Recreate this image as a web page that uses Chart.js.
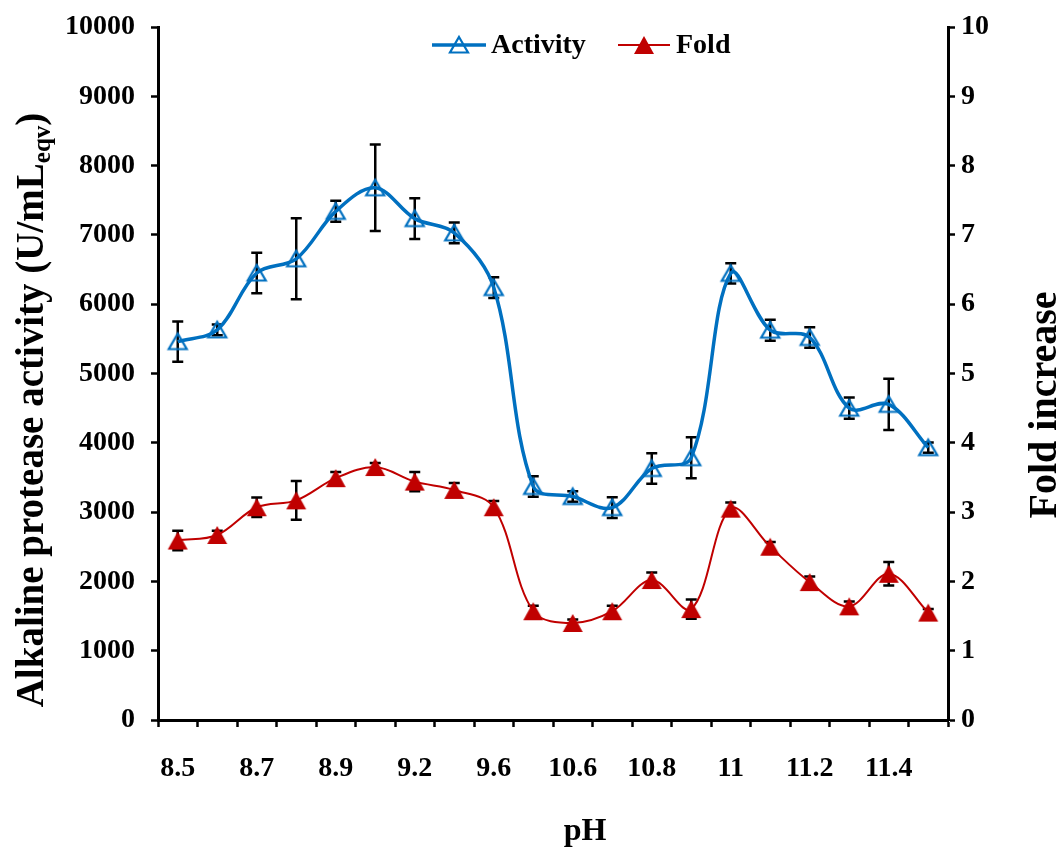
<!DOCTYPE html>
<html>
<head>
<meta charset="utf-8">
<script src="https://cdn.jsdelivr.net/npm/chart.js@4.4.1/dist/chart.umd.min.js"></script>
<style>
  html, body { margin: 0; padding: 0; background: #ffffff; }
  #wrap { width: 1062px; height: 848px; }
  canvas { display: block; }
</style>
</head>
<body>
<div id="wrap"><canvas id="chart" width="1062" height="848"></canvas></div>
<script>
// pH categories (every other one is labelled on the axis)
const phLabels = ['8.5', '8.6', '8.7', '8.8', '8.9', '9', '9.2', '9.4', '9.6', '10',
                  '10.6', '10.7', '10.8', '10.9', '11', '11.1', '11.2', '11.3', '11.4', '11.5'];

// Alkaline protease activity (U/mL eqv) and its standard deviation
const activity    = [5460, 5630, 6450, 6655, 7340, 7680, 7235, 7030, 6240, 3370,
                     3225, 3065, 3630, 3785, 6445, 5625, 5520, 4500, 4555, 3930];
const activityErr = [290, 77, 293, 584, 152, 623, 293, 149, 150, 147,
                     75, 149, 221, 296, 147, 152, 149, 152, 370, 75];

// Fold increase and its standard deviation
const fold    = [2.59, 2.67, 3.07, 3.17, 3.49, 3.65, 3.44, 3.32, 3.07, 1.57,
                 1.40, 1.57, 2.02, 1.60, 3.05, 2.50, 1.99, 1.64, 2.11, 1.55];
const foldErr = [0.14, 0.06, 0.14, 0.28, 0.09, 0.06, 0.14, 0.10, 0.09, 0.08,
                 0.05, 0.08, 0.11, 0.14, 0.09, 0.07, 0.08, 0.07, 0.17, 0.05];

// Axis ranges
const activityMax = 10000, activityStep = 1000;
const foldMax = 10, foldStep = 1;

const BLUE = '#0070C0';
const RED = '#C00000';
const FONT = '"Liberation Serif", "Times New Roman", serif';

// Triangle markers centred on their bounding box
function triangleMarker(w, h, fill, stroke, lw) {
  const pad = Math.ceil(lw || 0) + 1;
  const c = document.createElement('canvas');
  c.width = Math.round(w + 2 * pad);
  c.height = Math.round(h + 2 * pad);
  const g = c.getContext('2d');
  g.beginPath();
  g.moveTo(c.width / 2, pad);
  g.lineTo(c.width - pad, pad + h);
  g.lineTo(pad, pad + h);
  g.closePath();
  if (fill) { g.fillStyle = fill; g.fill(); }
  if (stroke) { g.strokeStyle = stroke; g.lineWidth = lw; g.lineJoin = 'miter'; g.stroke(); }
  return c;
}
const openTri = triangleMarker(18, 15.5, null, BLUE, 2.2);
const solidTri = triangleMarker(20, 18, RED, null, 0);

// Vertical error bars with caps, drawn under the markers
const errorBars = {
  id: 'errorBars',
  beforeDatasetsDraw(chart) {
    const ctx = chart.ctx;
    chart.data.datasets.forEach((ds, di) => {
      const meta = chart.getDatasetMeta(di);
      const ys = chart.scales[meta.yAxisID];
      ctx.save();
      ctx.strokeStyle = '#000000';
      ctx.lineWidth = 2.5;
      meta.data.forEach((pt, i) => {
        const v = ds.data[i], e = ds.errors[i];
        const top = ys.getPixelForValue(v + e);
        const bot = ys.getPixelForValue(v - e);
        ctx.beginPath();
        ctx.moveTo(pt.x, top); ctx.lineTo(pt.x, bot);
        ctx.moveTo(pt.x - 5.5, top); ctx.lineTo(pt.x + 5.5, top);
        ctx.moveTo(pt.x - 5.5, bot); ctx.lineTo(pt.x + 5.5, bot);
        ctx.stroke();
      });
      ctx.restore();
    });
  }
};

// Axis titles and the in-plot legend
const decorations = {
  id: 'decorations',
  afterDraw(chart) {
    const ctx = chart.ctx;
    ctx.save();
    ctx.fillStyle = '#000000';

    // Left axis title with subscript
    ctx.save();
    ctx.translate(31, 410);
    ctx.rotate(-Math.PI / 2);
    const mainFont = 'bold 39px ' + FONT;
    const subFont = 'bold 25px ' + FONT;
    const t1 = 'Alkaline protease activity (U/mL', t2 = 'eqv', t3 = ')';
    ctx.font = mainFont; const w1 = ctx.measureText(t1).width; const w3 = ctx.measureText(t3).width;
    ctx.font = subFont; const w2 = ctx.measureText(t2).width;
    let x = -(w1 + w2 + w3) / 2;
    ctx.textBaseline = 'alphabetic';
    ctx.textAlign = 'left';
    ctx.font = mainFont; ctx.fillText(t1, x, 12); x += w1;
    ctx.font = subFont; ctx.fillText(t2, x, 19); x += w2;
    ctx.font = mainFont; ctx.fillText(t3, x, 12);
    ctx.restore();

    // Right axis title
    ctx.save();
    ctx.translate(1043, 405);
    ctx.rotate(-Math.PI / 2);
    ctx.font = 'bold 40px ' + FONT;
    ctx.textAlign = 'center';
    ctx.textBaseline = 'alphabetic';
    ctx.fillText('Fold increase', 0, 13);
    ctx.restore();

    // Bottom axis title
    ctx.font = 'bold 32px ' + FONT;
    ctx.textAlign = 'center';
    ctx.textBaseline = 'alphabetic';
    ctx.fillText('pH', 585, 840);

    // Legend
    const items = [
      { ds: chart.data.datasets[0], x0: 432, x1: 486, tx: 491 },
      { ds: chart.data.datasets[1], x0: 618, x1: 670, tx: 676 }
    ];
    const ly = 45;
    items.forEach(it => {
      ctx.strokeStyle = it.ds.borderColor;
      ctx.lineWidth = it.ds.borderWidth;
      ctx.beginPath(); ctx.moveTo(it.x0, ly); ctx.lineTo(it.x1, ly); ctx.stroke();
      const m = it.ds.pointStyle;
      const cx = (it.x0 + it.x1) / 2;
      ctx.drawImage(m, cx - m.width / 2, ly - m.height / 2);
      ctx.font = 'bold 28px ' + FONT;
      ctx.textAlign = 'left';
      ctx.textBaseline = 'middle';
      ctx.fillStyle = '#000000';
      ctx.fillText(it.ds.label, it.tx, ly + 1);
    });
    ctx.restore();
  }
};

const tickFont = { family: FONT, size: 28, weight: 'bold' };

// Fixed scale box sizes so the plot area sits at 158..948 x 27..720
function fixVertical(width) {
  return s => { s.width = width; s.paddingTop = 0; s.paddingBottom = 0; };
}

new Chart(document.getElementById('chart'), {
  type: 'line',
  data: {
    labels: phLabels,
    datasets: [
      {
        label: 'Activity',
        data: activity,
        errors: activityErr,
        yAxisID: 'y',
        borderColor: BLUE,
        backgroundColor: BLUE,
        borderWidth: 3.5,
        tension: 0.35,
        pointStyle: openTri,
        pointRadius: 10,
        fill: false
      },
      {
        label: 'Fold',
        data: fold,
        errors: foldErr,
        yAxisID: 'y1',
        borderColor: RED,
        backgroundColor: RED,
        borderWidth: 2,
        tension: 0.35,
        pointStyle: solidTri,
        pointRadius: 10,
        fill: false
      }
    ]
  },
  options: {
    responsive: false,
    animation: false,
    devicePixelRatio: 1,
    layout: { padding: { top: 27, left: 0, right: 0, bottom: 0 } },
    plugins: {
      legend: { display: false },
      tooltip: { enabled: false },
      title: { display: false }
    },
    scales: {
      x: {
        type: 'category',
        offset: true,
        grid: {
          offset: true,
          drawOnChartArea: false,
          drawTicks: true,
          tickLength: 7,
          tickWidth: 2.5,
          tickColor: '#000000'
        },
        border: { display: true, color: '#000000', width: 3 },
        ticks: {
          autoSkip: false,
          maxRotation: 0,
          minRotation: 0,
          padding: 25,
          color: '#000000',
          font: tickFont,
          callback: (v, i) => (i % 2 === 0 ? phLabels[i] : '')
        },
        afterFit: s => { s.height = 128; s.paddingLeft = 0; s.paddingRight = 0; }
      },
      y: {
        position: 'left',
        min: 0,
        max: activityMax,
        grid: {
          drawOnChartArea: false,
          drawTicks: true,
          tickLength: 7,
          tickWidth: 2.5,
          tickColor: '#000000'
        },
        border: { display: true, color: '#000000', width: 3 },
        ticks: {
          stepSize: activityStep,
          padding: 16,
          color: '#000000',
          font: tickFont,
          callback: v => String(v)
        },
        afterFit: fixVertical(158)
      },
      y1: {
        position: 'right',
        min: 0,
        max: foldMax,
        grid: {
          drawOnChartArea: false,
          drawTicks: true,
          tickLength: 7,
          tickWidth: 2.5,
          tickColor: '#000000'
        },
        border: { display: true, color: '#000000', width: 3 },
        ticks: {
          stepSize: foldStep,
          padding: 6,
          color: '#000000',
          font: tickFont,
          callback: v => String(v)
        },
        afterFit: fixVertical(114)
      }
    }
  },
  plugins: [errorBars, decorations]
});
</script>
</body>
</html>
